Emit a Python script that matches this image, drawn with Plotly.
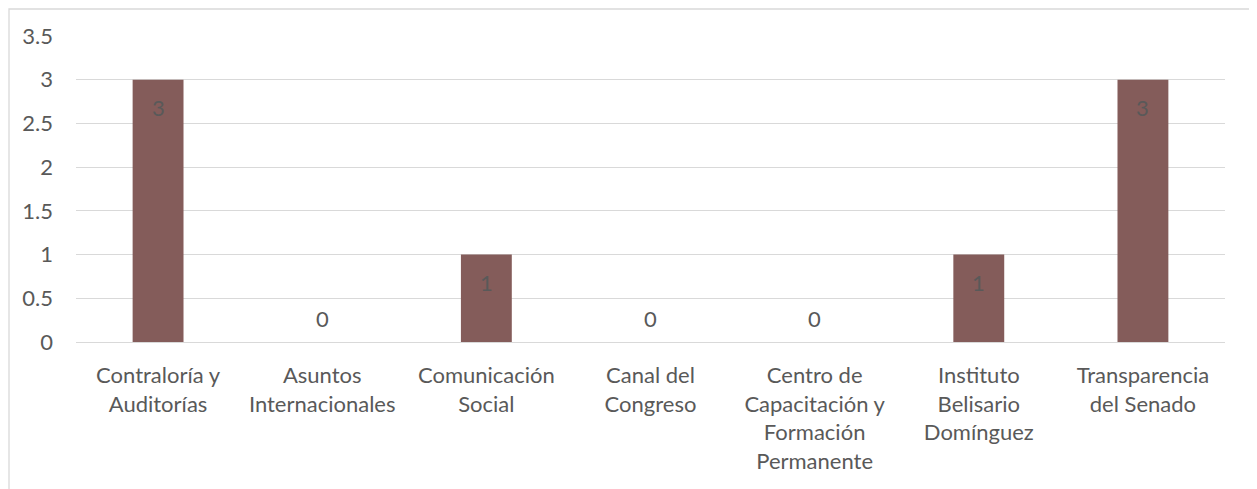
import plotly.graph_objects as go

categories = ["Contraloría y<br>Auditorías", "Asuntos<br>Internacionales", "Comunicación<br>Social",
              "Canal del<br>Congreso", "Centro de<br>Capacitación y<br>Formación<br>Permanente",
              "Instituto<br>Belisario<br>Domínguez", "Transparencia<br>del Senado"]
values = [3, 0, 1, 0, 0, 1, 3]
y_ticks = [0, 0.5, 1, 1.5, 2, 2.5, 3, 3.5]
y_tick_labels = ["0", "0.5", "1", "1.5", "2", "2.5", "3", "3.5"]

FONT = "Lato"
TXT = "#595959"
FS = 22

fig = go.Figure(go.Bar(x=categories, y=values, marker_color="#845C5A",
                       marker_line_width=0, width=0.31, hoverinfo="skip"))

for c, v in zip(categories, values):
    fig.add_annotation(x=c, y=v, text=str(v), showarrow=False,
                       yshift=-28 if v > 0 else 24, yanchor="middle",
                       font=dict(family=FONT, size=FS, color=TXT))

fig.update_layout(
    width=1249, height=481,
    margin=dict(l=68, r=32, t=28, b=147),
    plot_bgcolor="white", paper_bgcolor="white",
    showlegend=False,
    font=dict(family=FONT, size=FS, color=TXT),
    xaxis=dict(showgrid=False, showline=False, ticks="", ticklabelstandoff=18,
               tickfont=dict(family=FONT, size=FS, color=TXT)),
    yaxis=dict(range=[0, 3.5], tickvals=y_ticks, ticktext=y_tick_labels,
               showgrid=True, gridcolor="#d9d9d9", gridwidth=1.3, zeroline=True,
               zerolinecolor="#d9d9d9", zerolinewidth=1.3, showline=False, ticks="",
               ticklabelstandoff=22,
               tickfont=dict(family=FONT, size=FS, color=TXT)),
)
fig.add_shape(type="rect", xref="paper", yref="paper",
              x0=-67/1149, x1=1+27/1149, y0=-150/306, y1=1+27/306,
              line=dict(color="#d9d9d9", width=1.3), layer="below")

fig.write_html("out.html")
